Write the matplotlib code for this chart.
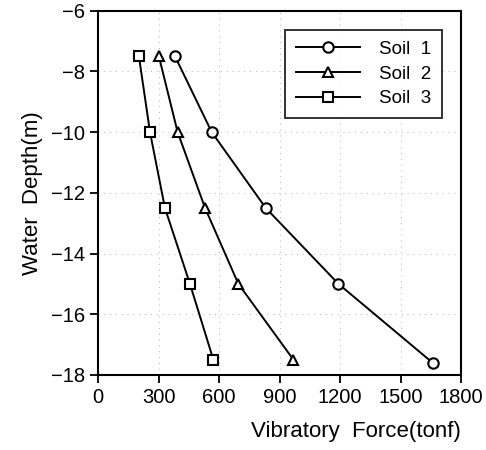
import matplotlib
matplotlib.use("Agg")
import matplotlib.pyplot as plt

# data
depth = [-7.5, -10, -12.5, -15, -17.5]
soil1 = [381, 563, 831, 1191, 1658]
soil2 = [301, 394, 530, 695, 968]
soil3 = [202, 257, 331, 455, 571]
depth1 = [-7.5, -10, -12.5, -15, -17.6]

plt.rcParams["font.family"] = ["Liberation Sans", "DejaVu Sans"]

fig = plt.figure(figsize=(4.86, 4.5), dpi=100)
ax = fig.add_axes([0.202, 0.167, 0.747, 0.809])

style = dict(color="black", lw=1.4, markersize=7.5, markerfacecolor="white",
             markeredgecolor="black", markeredgewidth=1.5)
ax.plot(soil1, depth1, marker="o", label="Soil  1", **style)
ax.plot(soil2, depth, marker="^", label="Soil  2", **style)
ax.plot(soil3, depth, marker="s", label="Soil  3", **style)

ax.set_xlim(0, 1800)
ax.set_ylim(-18, -6)
ax.set_xticks(range(0, 1801, 300))
ax.set_yticks(range(-18, -5, 2))
ax.grid(True, ls=(0, (1, 6)), lw=0.6, color="#999999")
for s in ax.spines.values():
    s.set_linewidth(1.5)
ax.tick_params(direction="out", length=6, width=1.3, labelsize=14.5)
ax.set_xlabel("Vibratory  Force(tonf)", fontsize=16, labelpad=10, loc="right")
ax.set_ylabel("Water  Depth(m)", fontsize=16, labelpad=6)

leg = ax.legend(loc="upper right", fontsize=13.5, frameon=True, fancybox=False,
                edgecolor="black", handlelength=3.4, borderpad=0.6,
                labelspacing=0.4, borderaxespad=1.0, handletextpad=1.0)
leg.get_frame().set_linewidth(1.4)

fig.savefig("out.png", dpi=100)
